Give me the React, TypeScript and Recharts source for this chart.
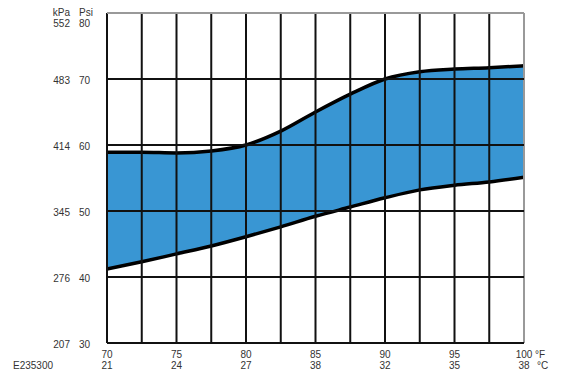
import { AreaChart, Area, XAxis, YAxis, ReferenceLine } from "recharts"

const fahrenheit = [70, 72.5, 75, 77.5, 80, 82.5, 85, 87.5, 90, 92.5, 95, 97.5, 100]
const upperPsi = [58.9, 58.9, 58.8, 59.1, 60.0, 62.1, 65.0, 67.7, 70.0, 71.1, 71.5, 71.7, 72.0]
const lowerPsi = [41.2, 42.3, 43.5, 44.7, 46.1, 47.6, 49.2, 50.6, 52.0, 53.2, 53.9, 54.4, 55.1]

const fLabels = [70, 75, 80, 85, 90, 95, 100]
const cLabels = ["21", "24", "27", "38", "32", "35", "38"]
const psiTicks = [30, 40, 50, 60, 70, 80]
const kpaLabels = ["207", "276", "345", "414", "483", "552"]

const data = fahrenheit.map((f, i) => ({ f, range: [lowerPsi[i], upperPsi[i]] }))

const font = "'Liberation Sans', Arial, sans-serif"
const textColor = "#333"

function XTick(props: any) {
    const { x, payload } = props
    const idx = fLabels.indexOf(payload.value)
    if (idx < 0) return <g />
    return (
        <g fontFamily={font} fontSize={10} fill={textColor}>
            <text x={x} y={358} textAnchor="middle">{payload.value}</text>
            <text x={x} y={369} textAnchor="middle">{cLabels[idx]}</text>
            {payload.value === 100 && (
                <>
                    <text x={x + 11} y={358}>°F</text>
                    <text x={x + 13} y={369}>°C</text>
                </>
            )}
        </g>
    )
}

function YTick(props: any) {
    const { y, payload } = props
    const idx = psiTicks.indexOf(payload.value)
    const top = payload.value === 80
    const ty = top ? y + 13.5 : y + 4.5
    return (
        <g fontFamily={font} fontSize={10} fill={textColor}>
            <text x={70} y={ty} textAnchor="end">{kpaLabels[idx]}</text>
            <text x={79} y={ty}>{payload.value}</text>
            {top && (
                <>
                    <text x={70} y={y + 2.5} textAnchor="end">kPa</text>
                    <text x={79} y={y + 2.5}>Psi</text>
                </>
            )}
        </g>
    )
}

export default function App() {
    return (
        <div style={{ position: "absolute", left: 0, top: 0, width: 580, height: 379, background: "#fff" }}>
            <AreaChart width={580} height={379} data={data} margin={{ top: 13, right: 56, bottom: 0, left: 0 }}>
                <XAxis
                    dataKey="f"
                    type="number"
                    domain={[70, 100]}
                    ticks={fahrenheit}
                    interval={0}
                    height={36}
                    axisLine={false}
                    tickLine={false}
                    tick={XTick}
                />
                <YAxis
                    type="number"
                    domain={[30, 80]}
                    ticks={psiTicks}
                    interval={0}
                    width={107}
                    axisLine={false}
                    tickLine={false}
                    tick={YTick}
                />
                <Area
                    dataKey="range"
                    type="monotone"
                    fill="#3996d3"
                    fillOpacity={1}
                    stroke="#000"
                    strokeWidth={3.5}
                    isAnimationActive={false}
                />
                {fahrenheit.map((f) => (
                    <ReferenceLine key={"v" + f} x={f} stroke={f === 100 ? "#999" : "#111"} strokeWidth={2} />
                ))}
                {psiTicks.map((p) => (
                    <ReferenceLine key={"h" + p} y={p} stroke={p === 80 ? "#999" : "#111"} strokeWidth={2} />
                ))}
            </AreaChart>
            <div style={{ position: "absolute", left: 13, top: 360, fontFamily: font, fontSize: 10, color: textColor }}>
                E235300
            </div>
        </div>
    )
}
